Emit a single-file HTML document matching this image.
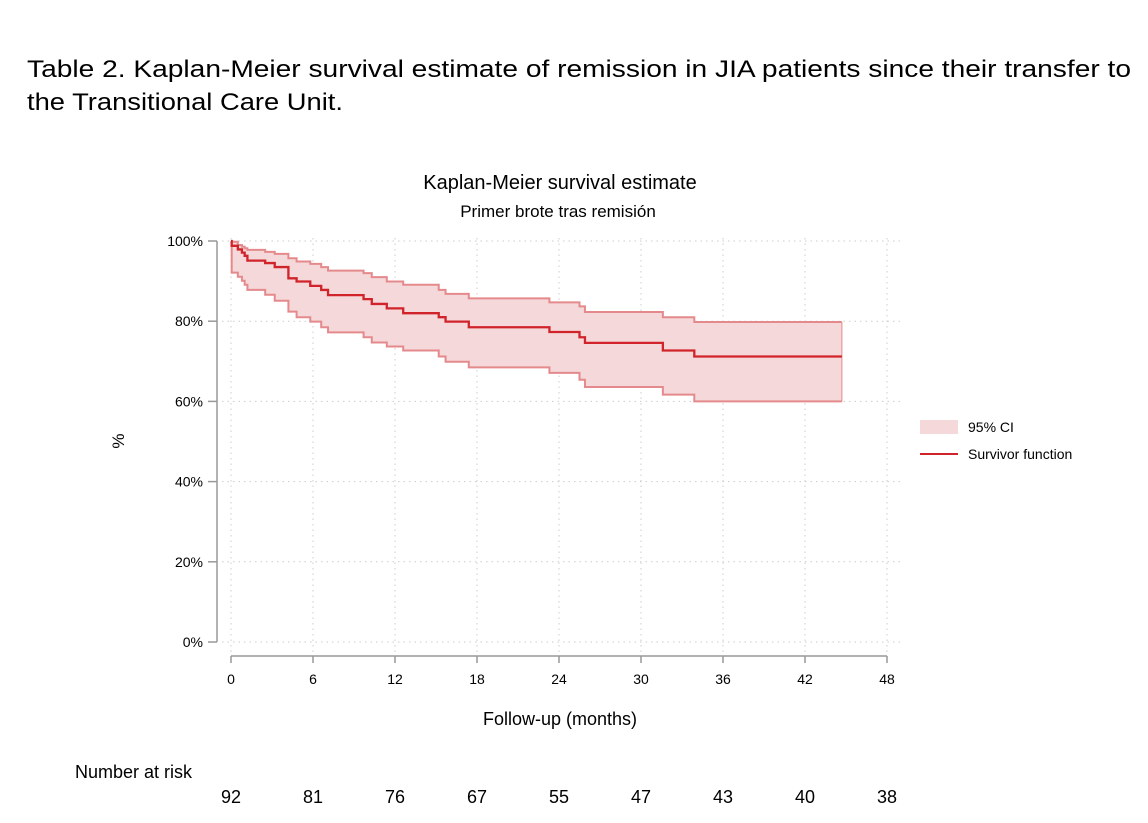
<!DOCTYPE html>
<html><head><meta charset="utf-8"><style>
body{margin:0;background:#fff;width:1148px;height:823px;overflow:hidden;font-family:"Liberation Sans",sans-serif;}
</style></head><body>
<svg id="c" width="1148" height="823" style="position:absolute;left:0;top:0">
<g font-family="Liberation Sans, sans-serif" font-size="24" fill="#000">
<text x="27" y="77" textLength="1104" lengthAdjust="spacingAndGlyphs">Table 2. Kaplan-Meier survival estimate of remission in JIA patients since their transfer to</text>
<text x="27" y="110" textLength="316" lengthAdjust="spacingAndGlyphs">the Transitional Care Unit.</text>
</g>
</svg>
<script>
const times=[0,0.05,0.5,0.8,1.0,1.2,2.5,3.2,4.2,4.8,5.8,6.6,7.1,9.7,10.3,11.4,12.6,15.2,15.7,17.4,23.3,25.5,25.9,31.6,33.9];
const survival=[100,98.8,97.9,97.1,96.3,95.1,94.5,93.5,90.7,89.9,88.8,87.8,86.5,85.5,84.3,83.2,82.0,81.0,79.9,78.5,77.3,76.0,74.6,72.7,71.2];
const upperCI=[100,99.8,99.0,98.6,98.2,97.8,97.3,96.8,95.7,94.9,94.3,93.5,92.6,92.0,91.0,89.9,89.1,87.8,86.8,85.7,84.7,83.7,82.3,81.0,79.8];
const lowerCI=[100,92.1,91.1,90.1,89.1,87.8,86.6,85.1,82.4,81.0,79.9,78.5,77.2,76.0,74.7,73.7,72.7,71.2,69.9,68.5,67.1,65.4,63.6,61.7,60.0];
const endTime=44.7;
const xTicks=[0,6,12,18,24,30,36,42,48];
const yTicks=[0,20,40,60,80,100];
const atRisk=[92,81,76,67,55,47,43,40,38];
const NS='http://www.w3.org/2000/svg';
const svg=document.getElementById('c');
const X=t=>231+t*(887-231)/48;
const Y=p=>642-p*(642-241)/100;
function el(tag,attrs,parent){const e=document.createElementNS(NS,tag);for(const k in attrs)e.setAttribute(k,attrs[k]);(parent||svg).appendChild(e);return e;}
function txt(s,x,y,size,anchor){const e=el('text',{x:x,y:y,'font-size':size,'text-anchor':anchor||'middle',fill:'#000','font-family':'Liberation Sans, sans-serif'});e.textContent=s;return e;}
xTicks.forEach(t=>{const g=el('line',{x1:X(t),x2:X(t),y1:238,y2:652,stroke:'#ccc','stroke-dasharray':'1.5,4'});

});
yTicks.forEach(p=>{const g=el('line',{x1:222,x2:902,y1:Y(p),y2:Y(p),stroke:'#ccc','stroke-dasharray':'1.5,4'});

});
function stepPath(vals){let d='M'+X(times[0])+','+Y(vals[0]);for(let i=1;i<times.length;i++){d+=' H'+X(times[i])+' V'+Y(vals[i]);}d+=' H'+X(endTime);return d;}
let band='M'+X(times[0])+','+Y(upperCI[0]);for(let i=1;i<times.length;i++){band+=' H'+X(times[i])+' V'+Y(upperCI[i]);}band+=' H'+X(endTime)+' V'+Y(lowerCI[lowerCI.length-1]);
for(let i=times.length-1;i>=1;i--){band+=' H'+X(times[i])+' V'+Y(lowerCI[i-1]);}band+=' H'+X(times[0])+' Z';
const b=el('path',{d:band,fill:'#f5d8da',stroke:'none'});


const u=el('path',{d:stepPath(upperCI),fill:'none',stroke:'#e58a8c','stroke-width':2});


const l=el('path',{d:stepPath(lowerCI),fill:'none',stroke:'#e58a8c','stroke-width':2});


const e2=el('line',{x1:X(endTime),x2:X(endTime),y1:Y(upperCI[upperCI.length-1]),y2:Y(lowerCI[lowerCI.length-1]),stroke:'#e58a8c','stroke-width':1});


const s=el('path',{d:stepPath(survival),fill:'none',stroke:'#d0242a','stroke-width':2.3});


const ya=el('path',{d:'M217,241 V642',stroke:'#999','stroke-width':1.5,fill:'none'});


yTicks.forEach(p=>{el('line',{x1:208,x2:217,y1:Y(p),y2:Y(p),stroke:'#999','stroke-width':1.5});
const t=txt(p+'%',203,Y(p)+5,14,'end');

});
const xa=el('path',{d:'M231,656 H887',stroke:'#999','stroke-width':1.5,fill:'none'});


xTicks.forEach(v=>{el('line',{x1:X(v),x2:X(v),y1:656,y2:663,stroke:'#999','stroke-width':1.5});
const t=txt(String(v),X(v),684,14);

});
atRisk.forEach((n,i)=>{const t=txt(String(n),X(xTicks[i]),803,18);

});
let t1=txt('Kaplan-Meier survival estimate',560,189,20);


let t2=txt('Primer brote tras remisión',558,217,17);


let t3=txt('Follow-up (months)',560,725,18);


let t4=txt('%',0,0,17);t4.setAttribute('transform','translate(124,441) rotate(-90)');


let t5=txt('Number at risk',75,778,18,'start');


const lg=el('rect',{x:920,y:420,width:38,height:14,fill:'#f5d8da'});


let t6=txt('95% CI',968,432,14,'start');


const ll=el('line',{x1:920,x2:958,y1:454,y2:454,stroke:'#d0242a','stroke-width':2});


let t7=txt('Survivor function',968,459,14,'start');


</script>
</body></html>
